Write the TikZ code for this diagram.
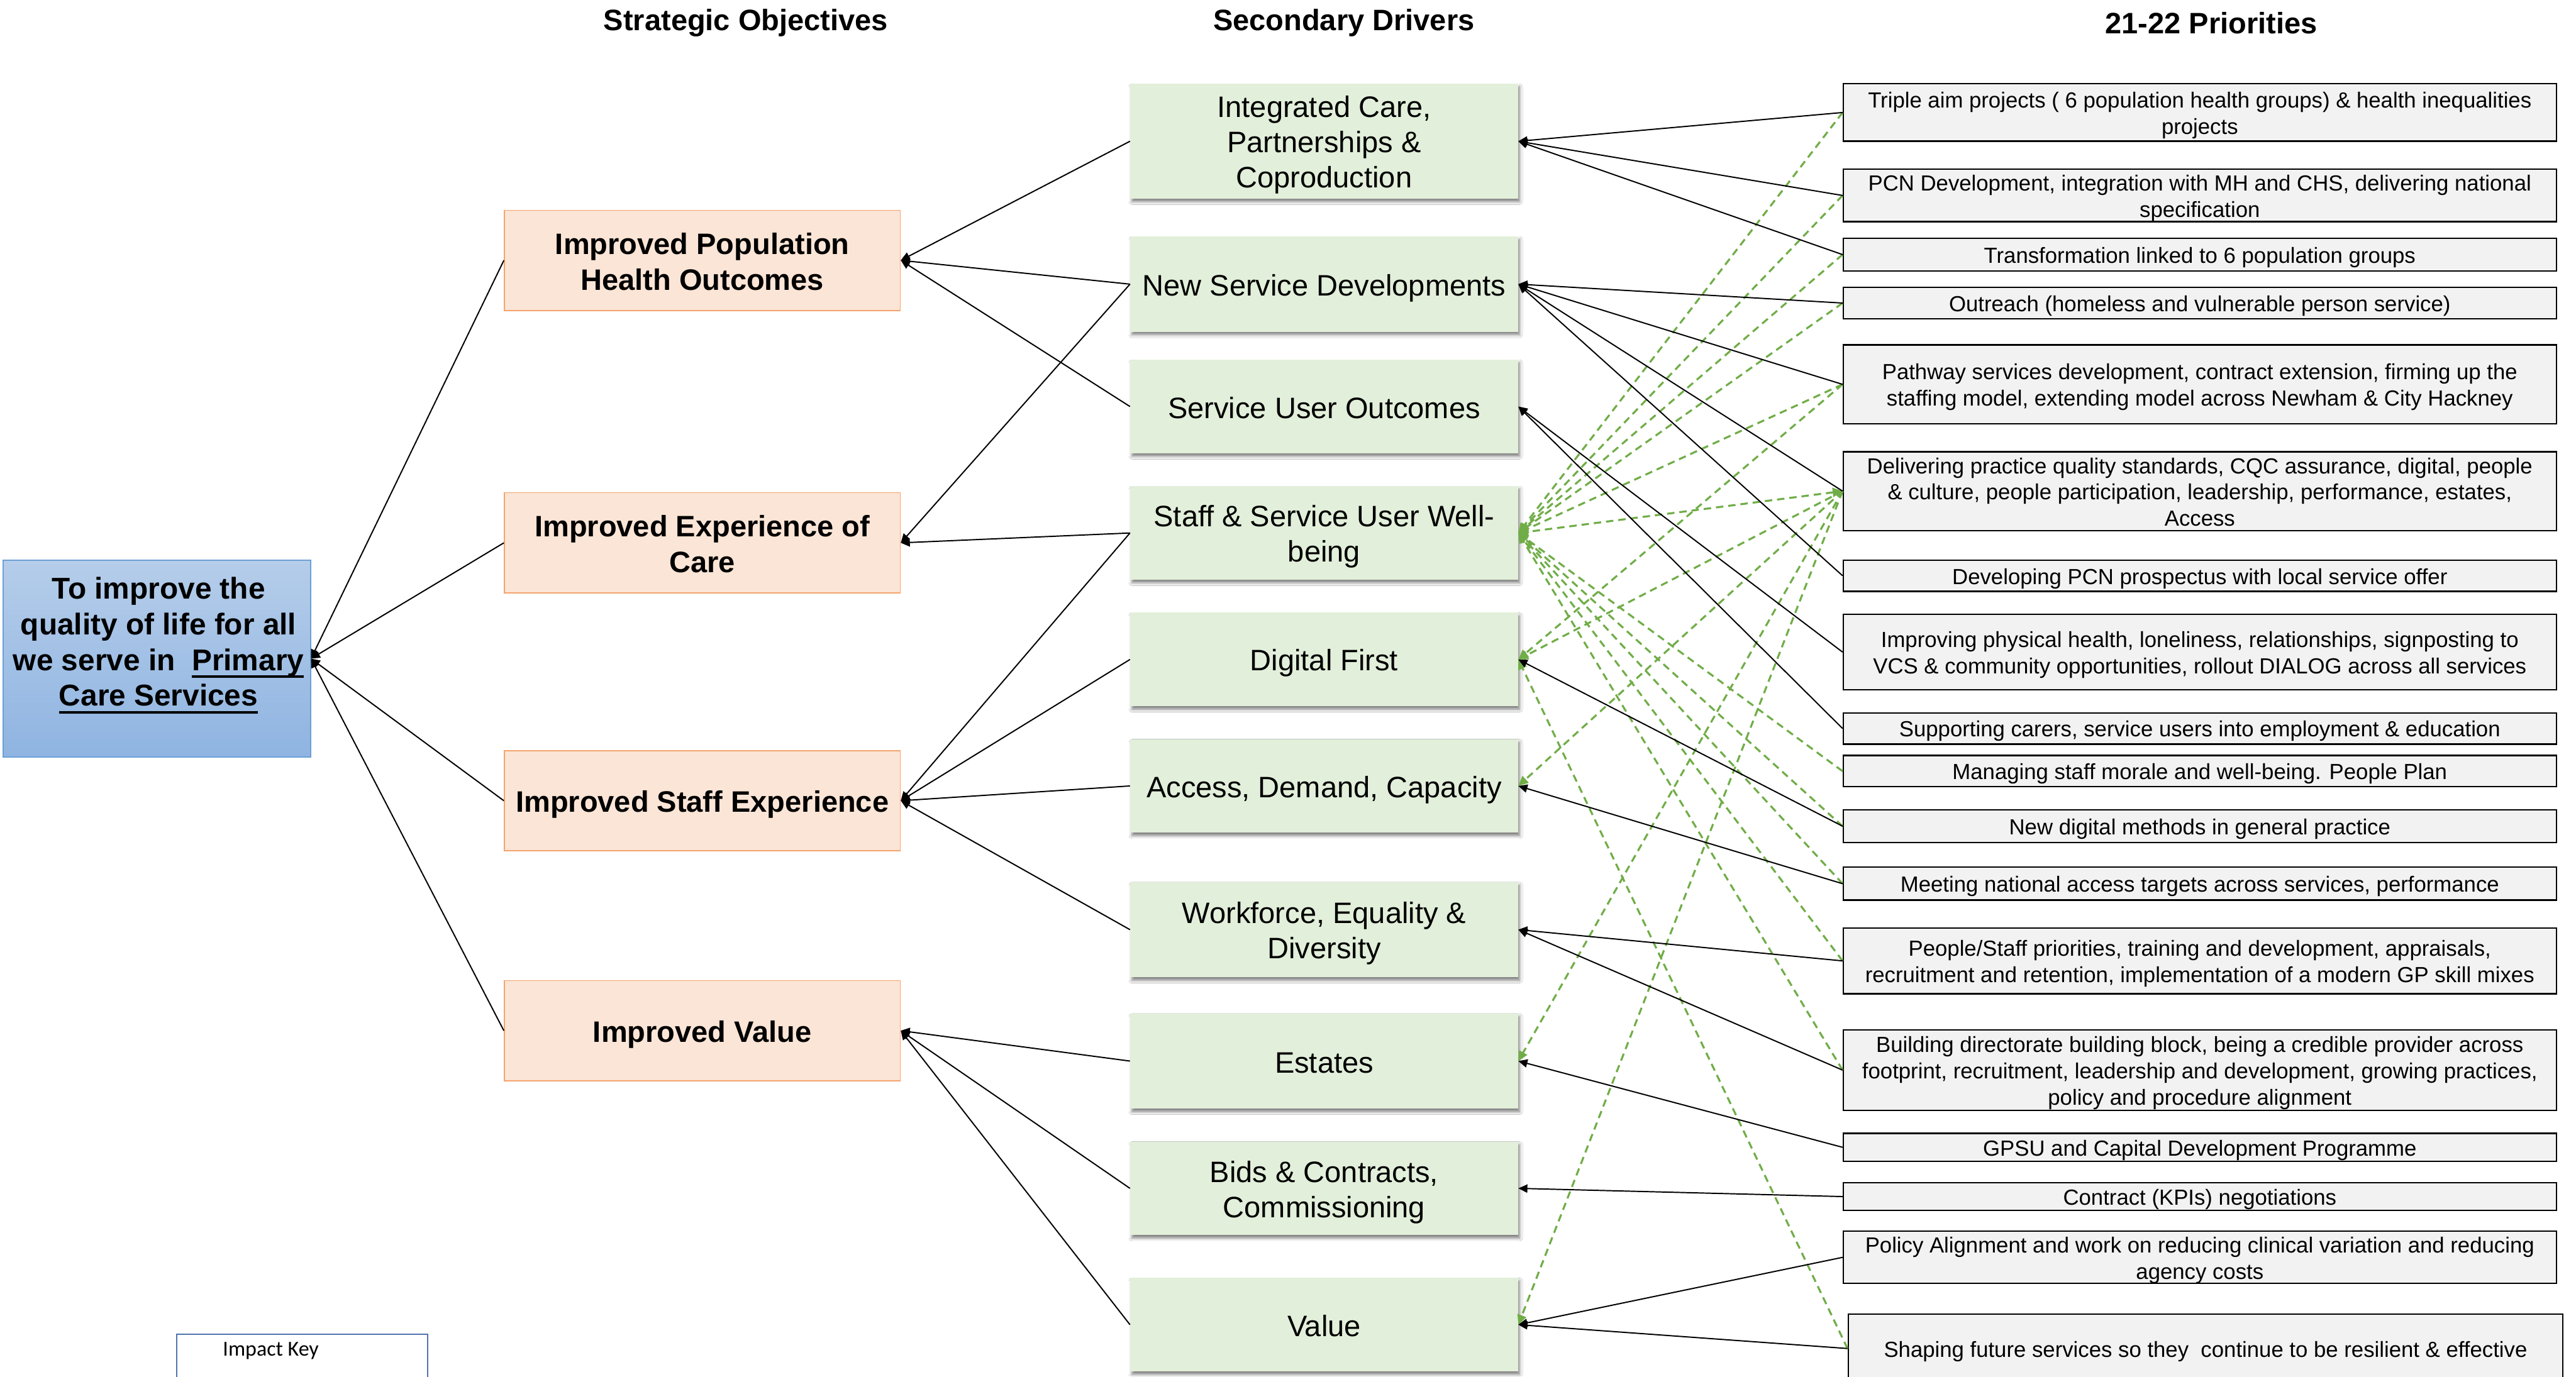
\documentclass[tikz,border=0pt]{standalone}
\usepackage{fontspec}
\setmainfont{Liberation Sans}
\newfontfamily\keyfont{Carlito}
\usetikzlibrary{arrows.meta,shadows.blur}

\definecolor{rootTop}{HTML}{B5CDEA}
\definecolor{rootBot}{HTML}{8FB4E1}
\definecolor{rootLine}{HTML}{6C9FD6}
\definecolor{objFill}{HTML}{FBE5D6}
\definecolor{objLine}{HTML}{F4A46C}
\definecolor{drvFill}{HTML}{E2EFDA}
\definecolor{priFill}{HTML}{F2F2F2}
\definecolor{impact}{HTML}{70AD47}
\definecolor{keyLine}{HTML}{4F73B0}

% thick underline set a fixed distance below the baseline
\newcommand\undl[1]{\setbox0\hbox{#1}\rlap{\rule[-4.6pt]{\wd0}{1.6pt}}\box0}
% invisible strut giving every text block the same line box
\newcommand\boxstrut{\rule[-0.18em]{0pt}{1.16em}}
% box text framed by struts on its first and last line
\newcommand\bt[1]{\boxstrut#1\boxstrut}

\tikzset{
  head/.style={font=\fontsize{18}{22}\selectfont\bfseries, inner sep=0pt},
  objbox/.style={draw=objLine, line width=0.6pt, fill=objFill,
    minimum width=241pt, minimum height=61pt, align=center, inner sep=0pt,
    font=\fontsize{18}{22}\selectfont\bfseries},
  drvbox/.style={fill=drvFill, minimum width=236pt, align=center, inner sep=0pt,
    font=\fontsize{18}{21.5}\selectfont,
    blur shadow={shadow xshift=1pt, shadow yshift=-1.8pt,
      shadow blur radius=1.8pt, shadow opacity=50}},
  pribox/.style={draw=black, line width=0.9pt, fill=priFill,
    minimum width=434pt, align=center, inner sep=0pt,
    font=\fontsize{13.3}{16}\selectfont},
  link/.style={draw=black, line width=0.75pt,
    -{Triangle[length=5.5pt,width=5pt]}},
  impactlink/.style={draw=impact, line width=1.2pt,
    dash pattern=on 4.5pt off 3pt,
    -{Triangle[length=6pt,width=5.5pt]}},
}

\begin{document}
\begin{tikzpicture}[x=1pt,y=-1pt]
\useasboundingbox (0,0) rectangle (1568,838);
\clip (0,0) rectangle (1568,838);
\fill[white] (0,0) rectangle (1568,838);

% column headings
\node[head] (h1) at (454,14) {Strategic Objectives};
\node[head] (h2) at (818,14) {Secondary Drivers};
\node[head] (h3) at (1346,14) {21-22 Priorities};

% overall aim
\node[draw=rootLine, line width=0.6pt, top color=rootTop, bottom color=rootBot,
      minimum width=187pt, minimum height=120pt, inner sep=0pt] (root) at (95.5,401) {};
\node[font=\fontsize{18.3}{21.7}\selectfont\bfseries, align=center, inner sep=0pt]
  (rootlbl) at (96.5,393)
  {To improve the\\quality of life for all\\we serve in~ \undl{Primary}\\\undl{Care Services}};

% strategic objectives
\node[objbox] (o1) at (427.5,158.5) {\bt{Improved Population\\Health Outcomes}};
\node[objbox] (o2) at (427.5,330.5) {\bt{Improved Experience of\\Care}};
\node[objbox] (o3) at (427.5,487.5) {\bt{Improved Staff Experience}};
\node[objbox] (o4) at (427.5,627.5) {\bt{Improved Value}};

% secondary drivers
\node[drvbox, minimum height=70pt] (d1) at (806,86) {\bt{Integrated Care,\\Partnerships \&\\Coproduction}};
\node[drvbox, minimum height=58pt] (d2) at (806,173) {\bt{New Service Developments}};
\node[drvbox, minimum height=57pt] (d3) at (806,247.5) {\bt{Service User Outcomes}};
\node[drvbox, minimum height=57pt] (d4) at (806,324.5) {\bt{Staff \& Service User Well-\\being}};
\node[drvbox, minimum height=57pt] (d5) at (806,401.5) {\bt{Digital First}};
\node[drvbox, minimum height=57pt] (d6) at (806,478.5) {\bt{Access, Demand, Capacity}};
\node[drvbox, minimum height=58pt] (d7) at (806,566) {\bt{Workforce, Equality \&\\Diversity}};
\node[drvbox, minimum height=58pt] (d8) at (806,646) {\bt{Estates}};
\node[drvbox, minimum height=57pt] (d9) at (806,723.5) {\bt{Bids \& Contracts,\\Commissioning}};
\node[drvbox, minimum height=57pt] (d10) at (806,806.5) {\bt{Value}};

% priorities for the year
\node[pribox, minimum height=35pt] (p1) at (1339,68.5) {\bt{Triple aim projects ( 6 population health groups) \& health inequalities\\projects}};
\node[pribox, minimum height=32pt] (p2) at (1339,119) {\bt{PCN Development, integration with MH and CHS, delivering national\\specification}};
\node[pribox, minimum height=20pt] (p3) at (1339,155) {\bt{Transformation linked to 6 population groups}};
\node[pribox, minimum height=19pt] (p4) at (1339,184.5) {\bt{Outreach (homeless and vulnerable person service)}};
\node[pribox, minimum height=48pt] (p5) at (1339,234) {\bt{Pathway services development, contract extension, firming up the\\staffing model, extending model across Newham \& City Hackney}};
\node[pribox, minimum height=48pt] (p6) at (1339,299) {\bt{Delivering practice quality standards, CQC assurance, digital, people\\\& culture, people participation, leadership, performance, estates,\\Access}};
\node[pribox, minimum height=19pt] (p7) at (1339,350.5) {\bt{Developing PCN prospectus with local service offer}};
\node[pribox, minimum height=46pt] (p8) at (1339,397) {\bt{Improving physical health, loneliness, relationships, signposting to\\VCS \& community opportunities, rollout DIALOG across all services}};
\node[pribox, minimum height=19pt] (p9) at (1339,443.5) {\bt{Supporting carers, service users into employment \& education}};
\node[pribox, minimum height=19pt] (p10) at (1339,469.5) {\bt{Managing staff morale and well-being. People Plan}};
\node[pribox, minimum height=20pt] (p11) at (1339,503) {\bt{New digital methods in general practice}};
\node[pribox, minimum height=20pt] (p12) at (1339,538) {\bt{Meeting national access targets across services, performance}};
\node[pribox, minimum height=40pt] (p13) at (1339,585) {\bt{People/Staff priorities, training and development, appraisals,\\recruitment and retention, implementation of a modern GP skill mixes}};
\node[pribox, minimum height=49pt] (p14) at (1339,651.5) {\bt{Building directorate building block, being a credible provider across\\footprint, recruitment, leadership and development, growing practices,\\policy and procedure alignment}};
\node[pribox, minimum height=17pt] (p15) at (1339,698.5) {\bt{GPSU and Capital Development Programme}};
\node[pribox, minimum height=17pt] (p16) at (1339,728.5) {\bt{Contract (KPIs) negotiations}};
\node[pribox, minimum height=31pt] (p17) at (1339,765.5) {\bt{Policy Alignment and work on reducing clinical variation and reducing\\agency costs}};
\node[pribox, minimum width=435pt, minimum height=42pt] (p18) at (1342.5,821) {\bt{Shaping future services so they~ continue to be resilient \& effective}};

% impact key
\node[draw=keyLine, line width=0.8pt, minimum width=153pt, minimum height=40pt,
      anchor=north west, inner sep=0pt] (key) at (107,812) {};
\node[anchor=west, inner sep=0pt, font=\keyfont\fontsize{13}{15}\selectfont] (keylbl) at (135.5,822.5) {Impact Key};

% green dashed impact links
\foreach \p in {p1,p2,p3,p4,p5,p10,p11,p12,p13,p14}
  \draw[impactlink] (\p.west) -- (d4.east);
\draw[impactlink, {Triangle[length=6pt,width=5.5pt]}-{Triangle[length=6pt,width=5.5pt]}] (p6.west) -- (d4.east);
\draw[impactlink] (p5.west) -- (d5.east);
\draw[impactlink] (p6.west) -- (d5.east);
\draw[impactlink] (p18.west) -- (d5.east);
\draw[impactlink] (p6.west) -- (d6.east);
\draw[impactlink] (p6.west) -- (d8.east);
\draw[impactlink] (p6.west) -- (d10.east);

% objectives feed the overall aim
\foreach \o in {o1,o2,o3,o4}
  \draw[link] (\o.west) -- (root.east);

% drivers feed objectives
\draw[link] (d1.west) -- (o1.east);
\draw[link] (d2.west) -- (o1.east);
\draw[link] (d3.west) -- (o1.east);
\draw[link] (d2.west) -- (o2.east);
\draw[link] (d4.west) -- (o2.east);
\draw[link] (d4.west) -- (o3.east);
\draw[link] (d5.west) -- (o3.east);
\draw[link] (d6.west) -- (o3.east);
\draw[link] (d7.west) -- (o3.east);
\draw[link] (d8.west) -- (o4.east);
\draw[link] (d9.west) -- (o4.east);
\draw[link] (d10.west) -- (o4.east);

% priorities feed drivers
\draw[link] (p1.west) -- (d1.east);
\draw[link] (p2.west) -- (d1.east);
\draw[link] (p3.west) -- (d1.east);
\draw[link] (p4.west) -- (d2.east);
\draw[link] (p5.west) -- (d2.east);
\draw[link] (p6.west) -- (d2.east);
\draw[link] (p7.west) -- (d2.east);
\draw[link] (p8.west) -- (d3.east);
\draw[link] (p9.west) -- (d3.east);
\draw[link] (p11.west) -- (d5.east);
\draw[link] (p12.west) -- (d6.east);
\draw[link] (p13.west) -- (d7.east);
\draw[link] (p14.west) -- (d7.east);
\draw[link] (p15.west) -- (d8.east);
\draw[link] (p16.west) -- (d9.east);
\draw[link] (p17.west) -- (d10.east);
\draw[link] (p18.west) -- (d10.east);
\end{tikzpicture}
\end{document}
